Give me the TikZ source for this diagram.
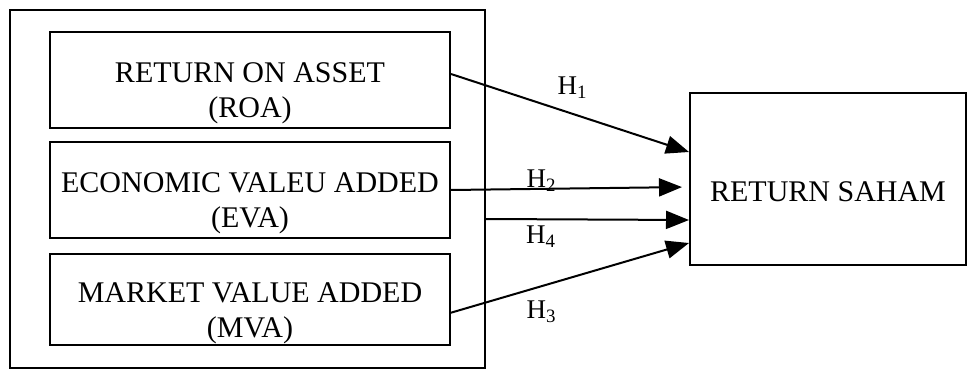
\documentclass[tikz,border=0pt]{standalone}
\usepackage{fontspec}
\setmainfont{Liberation Serif}
\usetikzlibrary{arrows.meta,positioning}

\newcommand{\lift}{\rule{0pt}{46pt}}

\tikzset{
  factor/.style={draw,line width=2pt,minimum width=400pt,minimum height=96pt,
    align=center,inner sep=2pt,font=\fontsize{30}{35}\selectfont},
  hyp/.style={-{Triangle[length=23pt,width=18pt]},line width=2pt},
  hlabel/.style={font=\fontsize{27}{30}\selectfont,inner sep=0pt}
}

\begin{document}
\begin{tikzpicture}[x=1pt,y=-1pt]
  \useasboundingbox (0,0) rectangle (968,371);

  \node[draw,line width=2pt,minimum width=475pt,minimum height=358pt] (group) at (247.5,189) {};

  \node[factor] (roa) at (250,80) {\lift RETURN ON ASSET\\(ROA)};
  \node[factor] (eva) [below = 12pt of roa] {\lift ECONOMIC VALEU ADDED\\(EVA)};
  \node[factor,minimum height=90pt] (mva) [below = 14pt of eva] {\lift MARKET VALUE ADDED\\(MVA)};

  \node[factor,minimum width=276pt,minimum height=172pt] (saham) at (828,179) {\lift RETURN SAHAM};

  % hypotheses H1 .. H4
  \draw[hyp] ([yshift=6pt]roa.east) -- node[hlabel,pos=0.51,yshift=26pt] {H\textsubscript{1}} ([yshift=27pt]saham.west);
  \draw[hyp,shorten >=7pt] (eva.east) -- node[hlabel,pos=0.38,yshift=8pt] {H\textsubscript{2}} ([yshift=-8pt]saham.west);
  \draw[hyp] ([yshift=-30pt]group.east) -- node[hlabel,pos=0.27,yshift=-17pt] {H\textsubscript{4}} ([yshift=-41pt]saham.west);
  \draw[hyp] ([yshift=-13pt]mva.east) -- node[hlabel,pos=0.38,yshift=-26pt] {H\textsubscript{3}} ([yshift=-64pt]saham.west);

\end{tikzpicture}
\end{document}
